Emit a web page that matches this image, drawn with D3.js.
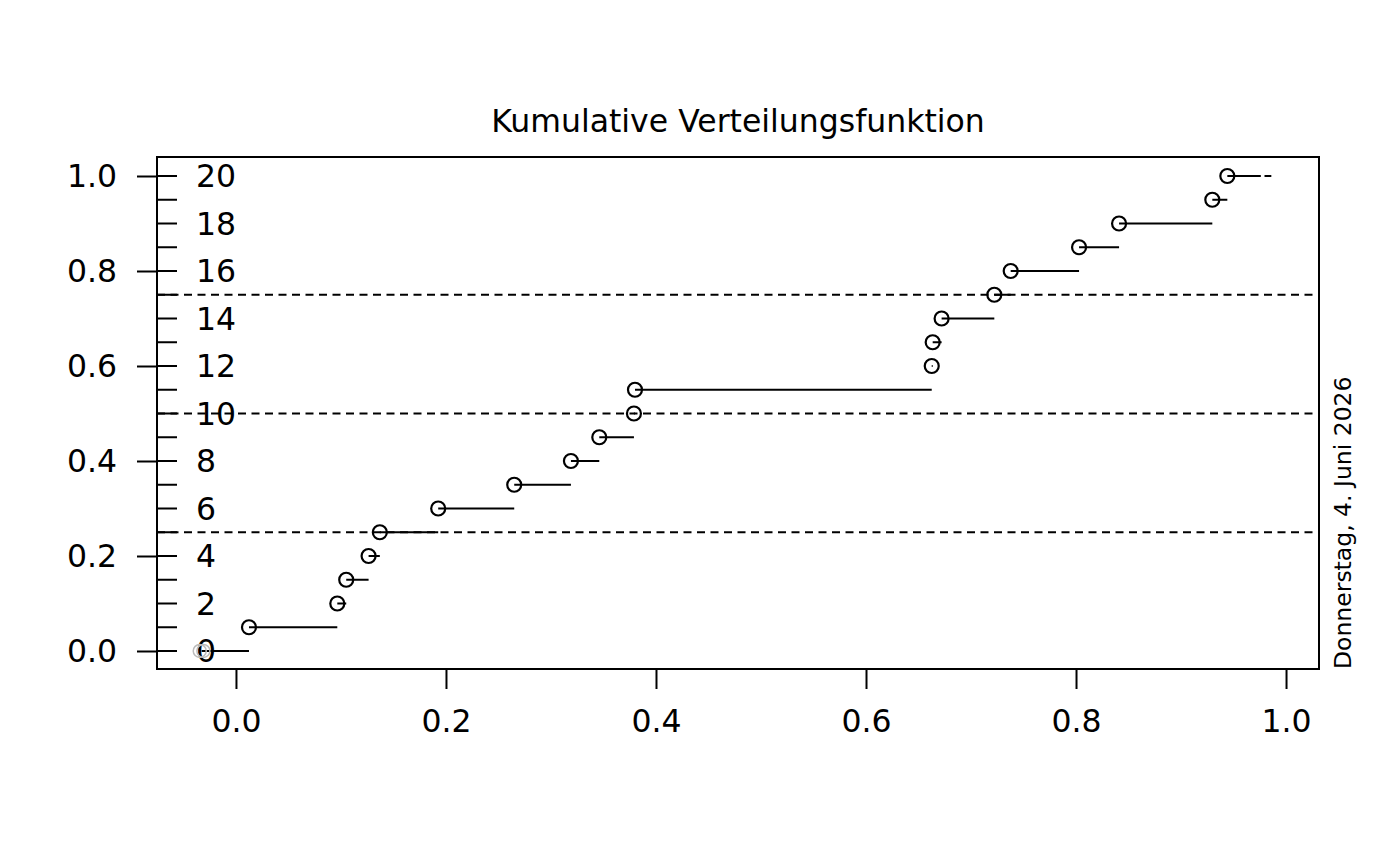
<!DOCTYPE html>
<html>
<head>
<meta charset="utf-8">
<script src="https://cdn.jsdelivr.net/npm/d3@7"></script>
<style>
  body { margin: 0; background: #fff; }
  svg text { font-family: "DejaVu Sans", sans-serif; fill: #000; }
</style>
</head>
<body>
<svg id="chart" width="1400" height="866"></svg>
<script>
// step positions (x) for counts 0..20
var stepX = [-0.0327, 0.0124, 0.0965, 0.105, 0.1263, 0.137, 0.1926, 0.265, 0.319, 0.346,
             0.379, 0.380, 0.6626, 0.6635, 0.672, 0.7222, 0.7378, 0.8029, 0.841, 0.9298, 0.9441];
var nTotal = 20;
var lastEnd = 0.976;
var tailDash = [0.9795, 0.986];
var greyPointX = [-0.0345, -0.031];
var quartiles = [0.25, 0.5, 0.75];
var xTicks = [0, 0.2, 0.4, 0.6, 0.8, 1.0];
var yTicks = [0, 0.2, 0.4, 0.6, 0.8, 1.0];
var countLabels = [0, 2, 4, 6, 8, 10, 12, 14, 16, 18, 20];
var title = 'Kumulative Verteilungsfunktion';
var dateText = 'Donnerstag, 4. Juni 2026';

var svg = d3.select('#chart');
var box = { left: 157, right: 1319, top: 157, bottom: 669 };

var x = d3.scaleLinear().domain([-0.0752, 1.0314]).range([box.left, box.right]);
var y = d3.scaleLinear().domain([-0.0379, 1.04]).range([box.bottom, box.top]);

var fs = 31.5;

// title
svg.append('text')
  .attr('x', (box.left + box.right) / 2).attr('y', 132)
  .attr('text-anchor', 'middle').style('font-size', fs + 'px')
  .text(title);

// x axis
var xAxis = d3.axisBottom(x).tickValues(xTicks).tickSize(20).tickPadding(21)
  .tickFormat(d3.format('.1f'));
var gx = svg.append('g').attr('transform', 'translate(0,' + box.bottom + ')').call(xAxis);
gx.select('.domain').remove();
gx.selectAll('line').attr('stroke', '#000').attr('stroke-width', 2);
gx.selectAll('text').style('font-size', fs + 'px').attr('dy', '0.71em');

// y axis
var yAxis = d3.axisLeft(y).tickValues(yTicks).tickSize(20).tickPadding(20)
  .tickFormat(d3.format('.1f'));
var gy = svg.append('g').attr('transform', 'translate(' + box.left + ',0)').call(yAxis);
gy.select('.domain').remove();
gy.selectAll('line').attr('stroke', '#000').attr('stroke-width', 2);
gy.selectAll('text').style('font-size', fs + 'px');

// inner count ticks
var countTicks = d3.range(0, nTotal + 1).map(function (k) { return k / nTotal; });
svg.append('g').selectAll('line').data(countTicks).enter().append('line')
  .attr('x1', box.left).attr('x2', box.left + 20)
  .attr('y1', function (d) { return y(d); }).attr('y2', function (d) { return y(d); })
  .attr('stroke', '#000').attr('stroke-width', 2);

svg.append('g').selectAll('text').data(countLabels).enter().append('text')
  .attr('x', box.left + 39)
  .attr('y', function (d) { return y(d / nTotal); })
  .attr('dy', '0.36em')
  .style('font-size', fs + 'px')
  .text(function (d) { return d; });

// quartile lines
svg.append('g').selectAll('line').data(quartiles).enter().append('line')
  .attr('x1', box.left).attr('x2', box.right)
  .attr('y1', function (d) { return y(d); }).attr('y2', function (d) { return y(d); })
  .attr('stroke', '#000').attr('stroke-width', 2).attr('stroke-dasharray', '8,5.5');

// step segments
var segs = stepX.map(function (sx, i) {
  return { x0: sx, x1: i < stepX.length - 1 ? stepX[i + 1] : lastEnd, v: i / nTotal };
});
svg.append('g').selectAll('line').data(segs).enter().append('line')
  .attr('x1', function (d) { return x(d.x0); }).attr('x2', function (d) { return x(d.x1); })
  .attr('y1', function (d) { return y(d.v); }).attr('y2', function (d) { return y(d.v); })
  .attr('stroke', '#000').attr('stroke-width', 2);

svg.append('line')
  .attr('x1', x(tailDash[0])).attr('x2', x(tailDash[1]))
  .attr('y1', y(1)).attr('y2', y(1))
  .attr('stroke', '#000').attr('stroke-width', 2);

// points
svg.append('g').selectAll('circle').data(greyPointX).enter().append('circle')
  .attr('cx', function (d) { return x(d); }).attr('cy', y(0)).attr('r', 6.5)
  .attr('fill', 'none').attr('stroke', '#bbb').attr('stroke-width', 1.5);

svg.append('g').selectAll('circle').data(stepX.slice(1)).enter().append('circle')
  .attr('cx', function (d) { return x(d); })
  .attr('cy', function (d, i) { return y((i + 1) / nTotal); })
  .attr('r', 7)
  .attr('fill', 'none').attr('stroke', '#000').attr('stroke-width', 2.2);

// box
svg.append('rect')
  .attr('x', box.left).attr('y', box.top)
  .attr('width', box.right - box.left).attr('height', box.bottom - box.top)
  .attr('fill', 'none').attr('stroke', '#000').attr('stroke-width', 2);

// date note
svg.append('text')
  .attr('transform', 'translate(1351,' + box.bottom + ') rotate(-90)')
  .style('font-size', '23.5px')
  .text(dateText);
</script>
</body>
</html>
